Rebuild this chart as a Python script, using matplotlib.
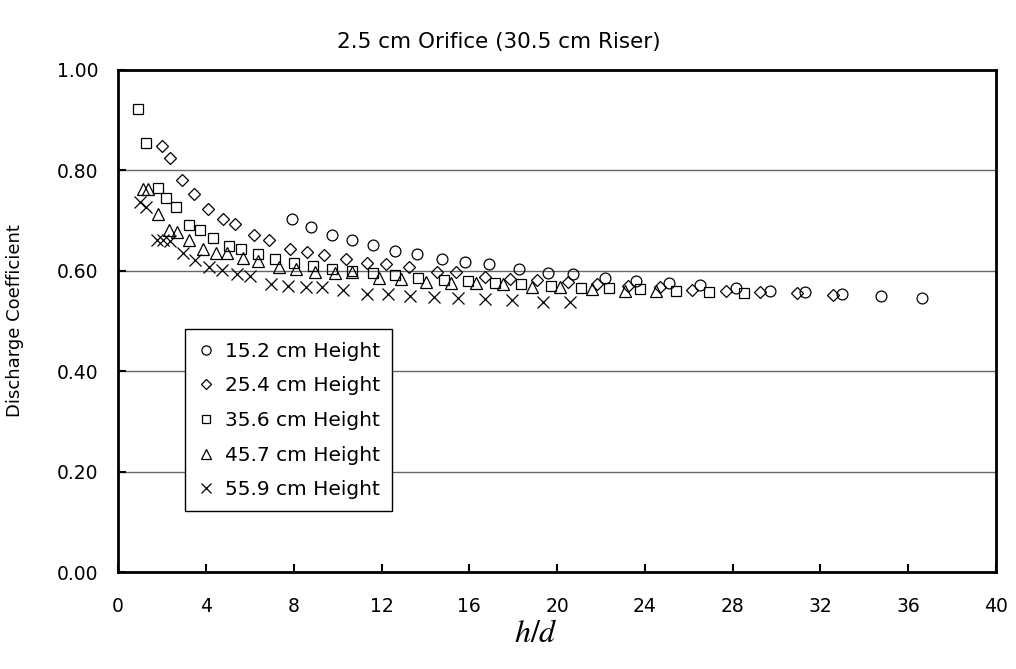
import matplotlib.pyplot as plt

plt.rcParams['font.family'] = ['DejaVu Sans']
plt.rcParams['mathtext.fontset'] = 'stix'

# h/d and discharge coefficient, one pair of lists per riser height
x_152 = [7.90, 8.77, 9.74, 10.67, 11.62, 12.62, 13.60, 14.77, 15.81, 16.90, 18.27, 19.60,
         20.73, 22.18, 23.59, 25.11, 26.50, 28.15, 29.70, 31.32, 33.00, 34.78, 36.63]
y_152 = [0.702, 0.687, 0.671, 0.660, 0.651, 0.640, 0.633, 0.623, 0.617, 0.613, 0.603, 0.596,
         0.593, 0.585, 0.580, 0.576, 0.571, 0.566, 0.560, 0.557, 0.553, 0.550, 0.545]

x_254 = [1.98, 2.36, 2.92, 3.44, 4.09, 4.77, 5.33, 6.19, 6.88, 7.83, 8.59, 9.38, 10.36, 11.33,
         12.21, 13.26, 14.52, 15.38, 16.71, 17.85, 19.09, 20.50, 21.84, 23.24, 24.71, 26.17,
         27.68, 29.24, 30.94, 32.58]
y_254 = [0.848, 0.825, 0.780, 0.753, 0.723, 0.702, 0.692, 0.671, 0.661, 0.644, 0.638, 0.632,
         0.623, 0.616, 0.613, 0.607, 0.597, 0.597, 0.588, 0.583, 0.581, 0.577, 0.573, 0.569,
         0.567, 0.561, 0.559, 0.557, 0.555, 0.551]

x_356 = [0.92, 1.25, 1.80, 2.19, 2.62, 3.23, 3.73, 4.33, 5.05, 5.61, 6.38, 7.14, 8.00, 8.86,
         9.74, 10.64, 11.59, 12.60, 13.68, 14.86, 15.92, 17.17, 18.35, 19.72, 21.07, 22.36,
         23.77, 25.40, 26.92, 28.53]
y_356 = [0.921, 0.854, 0.765, 0.744, 0.727, 0.691, 0.681, 0.665, 0.649, 0.644, 0.633, 0.624,
         0.616, 0.609, 0.603, 0.600, 0.596, 0.591, 0.585, 0.581, 0.579, 0.576, 0.573, 0.569,
         0.566, 0.565, 0.563, 0.559, 0.557, 0.555]

x_457 = [1.11, 1.37, 1.83, 2.31, 2.69, 3.21, 3.85, 4.44, 4.94, 5.67, 6.37, 7.31, 8.09, 8.95,
         9.89, 10.67, 11.88, 12.88, 14.05, 15.16, 16.30, 17.54, 18.84, 20.13, 21.57, 23.09, 24.53]
y_457 = [0.762, 0.762, 0.713, 0.681, 0.676, 0.661, 0.643, 0.636, 0.636, 0.626, 0.620, 0.607,
         0.603, 0.598, 0.595, 0.597, 0.586, 0.583, 0.578, 0.576, 0.575, 0.573, 0.568, 0.567,
         0.563, 0.559, 0.559]

x_559 = [0.99, 1.25, 1.78, 2.03, 2.36, 2.94, 3.51, 4.14, 4.71, 5.40, 6.02, 6.96, 7.72, 8.54,
         9.28, 10.23, 11.33, 12.28, 13.32, 14.39, 15.47, 16.71, 17.96, 19.34, 20.60]
y_559 = [0.737, 0.726, 0.661, 0.661, 0.658, 0.636, 0.621, 0.607, 0.601, 0.593, 0.589, 0.573,
         0.570, 0.567, 0.567, 0.561, 0.553, 0.553, 0.549, 0.548, 0.546, 0.544, 0.542, 0.538, 0.537]

fig = plt.figure(figsize=(10.16, 6.69), dpi=100)
ax = fig.add_axes([0.1163, 0.1445, 0.864, 0.7516])

mk = dict(linestyle='none', markerfacecolor='none', markeredgecolor='black',
          markeredgewidth=0.9, color='black')
ax.plot(x_152, y_152, marker='o', markersize=7.8, label='15.2 cm Height', **mk)
ax.plot(x_254, y_254, marker='D', markersize=6.3, label='25.4 cm Height', **mk)
ax.plot(x_356, y_356, marker='s', markersize=7.6, label='35.6 cm Height', **mk)
ax.plot(x_457, y_457, marker='^', markersize=8.6, label='45.7 cm Height', **mk)
ax.plot(x_559, y_559, marker='x', markersize=8.0, label='55.9 cm Height', **mk)

ax.set_xlim(0, 40)
ax.set_ylim(0, 1.0)
ax.set_xticks(range(0, 41, 4))
ax.set_yticks([0, 0.2, 0.4, 0.6, 0.8, 1.0])
ax.set_yticklabels(['0.00', '0.20', '0.40', '0.60', '0.80', '1.00'])
ax.tick_params(axis='both', direction='in', length=6, width=1.5, labelsize=13.5, pad=14)
ax.tick_params(axis='x', pad=18)
ax.yaxis.grid(True, color='#666666', linewidth=1)
ax.set_axisbelow(True)
for s in ax.spines.values():
    s.set_linewidth(2)

ax.set_ylabel('Discharge Coefficient', fontsize=13, labelpad=24)
fig.text(0.527, 0.03, r'$h/d$', fontsize=23, ha='center', va='bottom')
fig.text(0.491, 0.937, '2.5 cm Orifice (30.5 cm Riser)', fontsize=15.5, ha='center', va='center')

leg = ax.legend(loc='upper left', bbox_to_anchor=(0.076, 0.483), borderaxespad=0,
                fontsize=14.5, markerscale=0.85, handlelength=0.9, handletextpad=0.5,
                labelspacing=0.78, fancybox=False, framealpha=1, edgecolor='black',
                borderpad=0.6)
leg.get_frame().set_linewidth(1)

plt.savefig('out.png', dpi=100)
plt.close()
